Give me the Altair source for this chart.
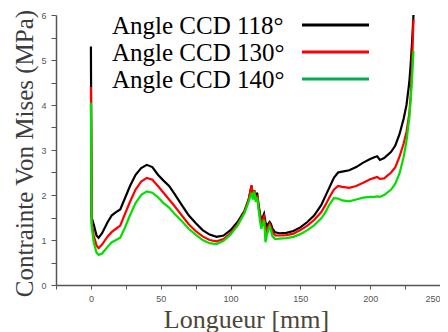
import altair as alt
import pandas as pd

series_names = ["Angle CCD 118°", "Angle CCD 130°", "Angle CCD 140°"]
line_colors = ["#000000", "#ff0000", "#00e000"]
legend_colors = ["#000000", "#ff0000", "#00b050"]

x_mm = [0, 0.5, 2, 4, 5.5, 8, 12, 15, 18, 21, 24, 28, 32, 36, 40, 44, 48, 52, 56, 60,
        65, 70, 75, 80, 85, 90, 95, 100, 105, 110, 113, 115, 116, 117, 118, 119, 120,
        121, 122, 123, 124, 125, 126, 127, 128, 129, 130, 132, 135, 140, 145, 150, 155,
        160, 165, 168, 171, 174, 177, 180, 185, 190, 195, 200, 203, 205, 207, 210, 215,
        218, 221, 224, 226, 228, 229, 230, 231]

y_118 = [5.3, 1.5, 1.35, 1.1, 1.05, 1.15, 1.4, 1.55, 1.62, 1.68, 1.9, 2.2, 2.45, 2.6, 2.67,
         2.62, 2.45, 2.32, 2.2, 2.02, 1.78, 1.55, 1.38, 1.22, 1.12, 1.07, 1.1, 1.22, 1.4,
         1.65, 1.9, 2.2, 2.0, 2.1, 1.95, 2.05, 1.8, 1.6, 1.42, 1.5, 1.58, 1.4, 1.3, 1.36,
         1.4, 1.35, 1.25, 1.17, 1.15, 1.16, 1.2, 1.28, 1.4, 1.55, 1.78, 1.98, 2.18, 2.38,
         2.5, 2.52, 2.55, 2.62, 2.72, 2.8, 2.84, 2.86, 2.78, 2.82, 2.96, 3.1, 3.35, 3.7,
         4.0, 4.5, 4.9, 5.4, 6.0]

y_130 = [4.4, 1.4, 1.1, 0.88, 0.82, 0.9, 1.08, 1.18, 1.25, 1.32, 1.55, 1.85, 2.12, 2.3, 2.38,
         2.34, 2.2, 2.05, 1.9, 1.75, 1.55, 1.35, 1.2, 1.08, 1.0, 0.97, 1.02, 1.15, 1.35,
         1.62, 1.9, 2.22, 1.95, 2.1, 1.9, 2.0, 1.75, 1.55, 1.35, 1.45, 1.52, 1.3, 1.2, 1.3,
         1.36, 1.28, 1.18, 1.1, 1.1, 1.11, 1.14, 1.22, 1.32, 1.45, 1.62, 1.78, 1.96, 2.12,
         2.2, 2.18, 2.16, 2.2, 2.27, 2.35, 2.38, 2.4, 2.36, 2.37, 2.5, 2.62, 2.85, 3.15,
         3.4, 3.8, 4.2, 4.9, 5.9]

y_140 = [4.05, 1.3, 0.95, 0.72, 0.67, 0.7, 0.85, 0.95, 1.0, 1.05, 1.25, 1.55, 1.82, 2.0, 2.08,
         2.05, 1.95, 1.82, 1.72, 1.58, 1.42, 1.25, 1.12, 1.0, 0.93, 0.91, 0.98, 1.12, 1.32,
         1.6, 1.85, 2.05, 1.9, 2.08, 1.85, 1.95, 1.7, 1.45, 1.25, 1.35, 1.45, 0.95, 1.1, 1.22,
         1.3, 1.2, 1.08, 1.02, 1.03, 1.04, 1.07, 1.13, 1.22, 1.33, 1.48, 1.62, 1.8, 1.93,
         1.92, 1.88, 1.86, 1.9, 1.94, 1.96, 1.96, 1.97, 1.96, 2.0, 2.12, 2.25, 2.48, 2.85,
         3.2, 3.7, 4.1, 4.6, 5.2]

x_ticks = [-25, 0, 25, 50, 75, 100, 125, 150, 175, 200, 225, 250]
y_ticks = [0, 0.5, 1, 1.5, 2, 2.5, 3, 3.5, 4, 4.5, 5, 5.5, 6]

rows = []
for name, ys in zip(series_names, [y_118, y_130, y_140]):
    for i, (xv, yv) in enumerate(zip(x_mm, ys)):
        rows.append({"serie": name, "x": xv, "y": yv, "i": i})
df = pd.DataFrame(rows)

lines = alt.Chart(df).mark_line(strokeWidth=2.2, clip=True).encode(
    x=alt.X("x:Q", scale=alt.Scale(domain=[-25, 250], nice=False, zero=False),
            axis=alt.Axis(values=x_ticks, title="Longueur [mm]",
                          labelExpr="datum.value % 50 == 0 && datum.value >= 0 ? format(datum.value, 'd') : ''",
                          titleX=190, titleY=42, titleBaseline="alphabetic",
                          titleFont="Liberation Serif", titleFontSize=26,
                          titleFontWeight="normal", titleColor="#4b4636",
                          labelFont="Liberation Sans", labelFontSize=9, labelColor="#555555",
                          labelPadding=5, tickSize=4, tickColor="#555555",
                          domainColor="#555555", domainWidth=1.5, grid=False)),
    y=alt.Y("y:Q", scale=alt.Scale(domain=[0, 6], nice=False),
            axis=alt.Axis(values=y_ticks, title="Contrainte Von Mises (MPa)",
                          labelExpr="datum.value % 1 == 0 ? format(datum.value, 'd') : ''",
                          titleX=-32, titleY=138, titleAngle=-90, titleBaseline="middle",
                          titleFont="Liberation Serif", titleFontSize=25,
                          titleFontWeight="normal", titleColor="#3c3c3c",
                          labelFont="Liberation Sans", labelFontSize=9, labelColor="#555555",
                          labelPadding=5, tickSize=5, tickColor="#555555",
                          domainColor="#555555", domainWidth=1.5, grid=False)),
    color=alt.Color("serie:N", scale=alt.Scale(domain=series_names, range=line_colors),
                    legend=None),
    order="i:Q",
)

layers = [lines]
legend_y0 = 10
legend_step = 27
for k, (name, col) in enumerate(zip(series_names, legend_colors)):
    ly = legend_y0 + k * legend_step
    rule = alt.Chart(pd.DataFrame({"serie": [name]})).mark_rule(
        strokeWidth=3, color=col).encode(
        x=alt.value(246), x2=alt.value(313), y=alt.value(ly))
    txt = alt.Chart(pd.DataFrame({"serie": [name]})).mark_text(
        align="left", baseline="alphabetic", font="Liberation Serif", fontSize=25,
        color="#000000").encode(
        x=alt.value(56), y=alt.value(ly + 9), text="serie:N")
    layers += [rule, txt]

chart = alt.layer(*layers).properties(
    width=384, height=270,
    autosize=alt.AutoSizeParams(type="none"),
    padding={"left": 48, "top": 7, "right": 0, "bottom": 50},
).configure_view(stroke=None)

chart.save("out.html", embed_options={"renderer": "svg", "actions": False})
